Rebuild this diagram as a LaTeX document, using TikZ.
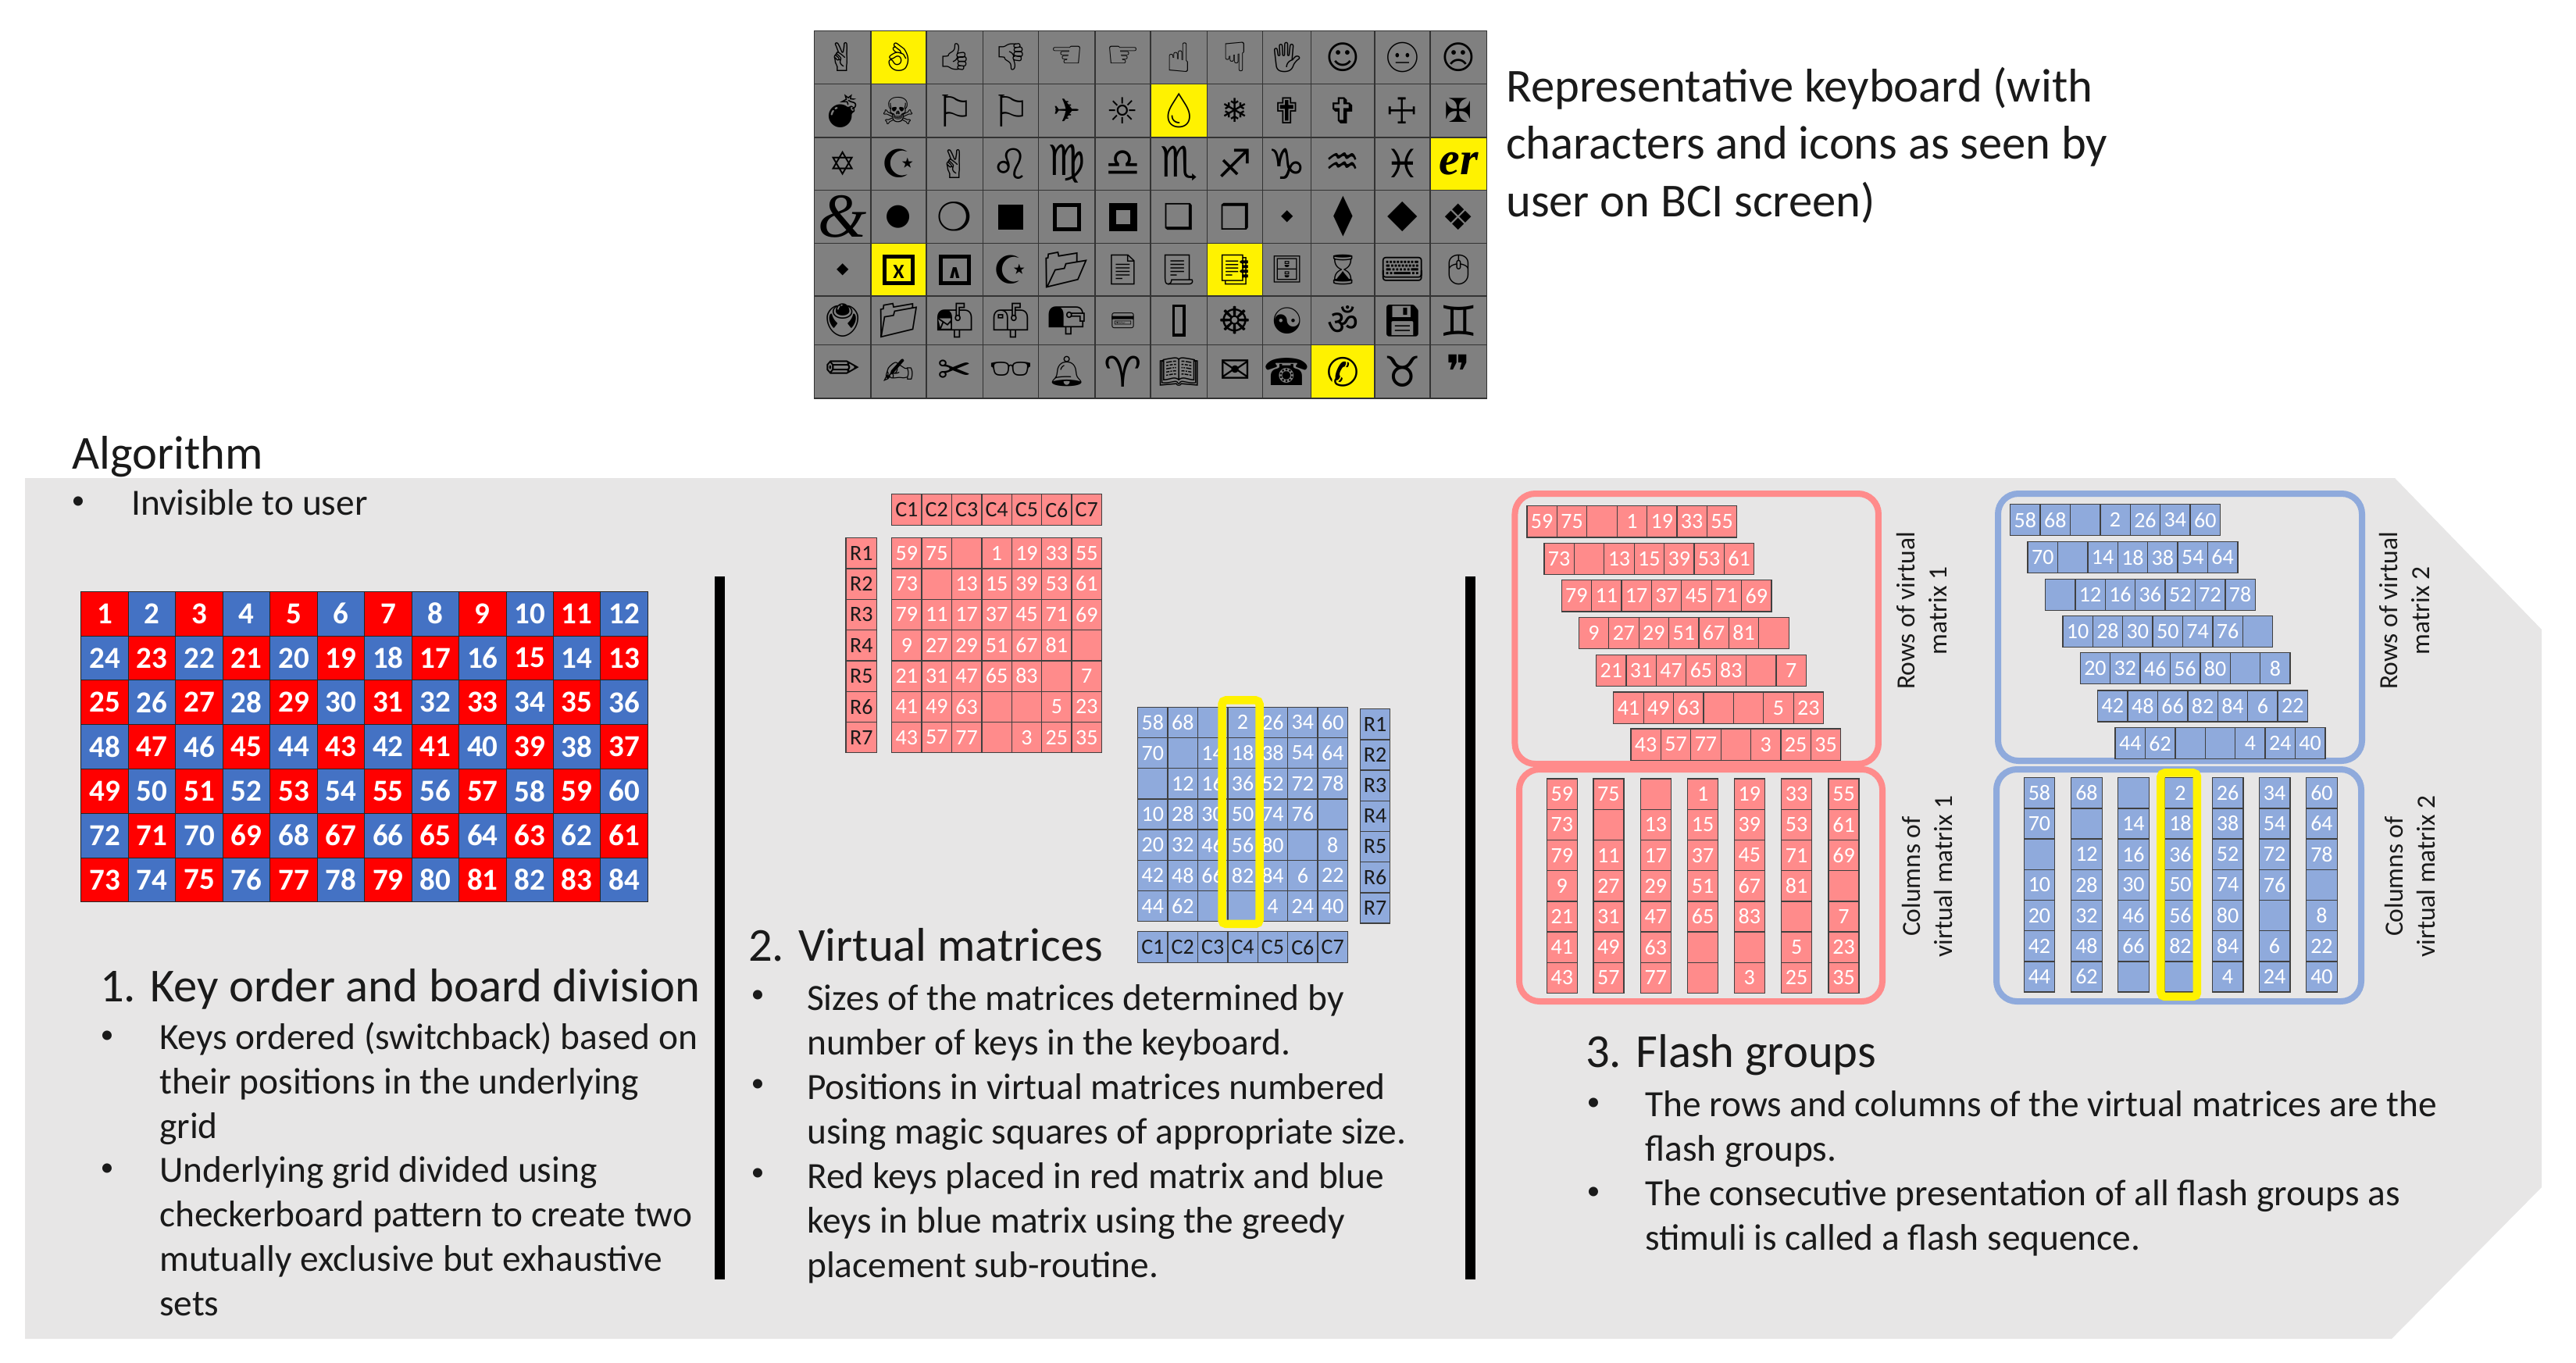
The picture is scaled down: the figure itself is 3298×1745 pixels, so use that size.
\documentclass[tikz,border=0pt]{standalone}
\usepackage{fontspec}
\setmainfont{Carlito}
\newfontfamily\djv{DejaVu Sans}
\newfontfamily\emof{Noto Emoji}
\newfontfamily\devf[Script=Devanagari]{Noto Sans}
\newfontfamily\lserif{Liberation Serif}
\definecolor{panel}{HTML}{E7E6E6}
\definecolor{kbgray}{HTML}{808080}
\definecolor{vred}{HTML}{FF8B8B}
\definecolor{vblue}{HTML}{8FAADC}
\definecolor{ckblue}{HTML}{4472C4}
\definecolor{txt}{HTML}{1A1A1A}
\newcommand\gD[2][50]{{\fontsize{#1}{#1}\selectfont\djv #2}}
\newcommand\gE[2][38]{{\fontsize{#1}{#1}\selectfont\emof #2}}
\newcommand\frbox[3]{{\fboxsep=0pt\fboxrule=#1pt\fbox{\rule{#2pt}{0pt}\rule{0pt}{#3pt}}}}
\newcommand\txbox[2]{{\fboxsep=2pt\fboxrule=5pt\fbox{\makebox[27pt]{\rule{0pt}{25pt}\raisebox{1pt}{\fontsize{#1}{#1}\selectfont\bfseries #2}}}}}
% keyboard
\def\kbx{{1042.6,1115,1186,1258.5,1329.7,1402,1473,1545.5,1616.7,1678.7,1760,1831,1903.7}}
\def\kby{{39.3,107.3,176,243.3,311.7,379,441.7,510}}
\expandafter\def\csname yk1-2\endcsname{}
\expandafter\def\csname yk2-7\endcsname{}
\expandafter\def\csname yk3-12\endcsname{}
\expandafter\def\csname yk5-2\endcsname{}
\expandafter\def\csname yk5-8\endcsname{}
\expandafter\def\csname yk7-10\endcsname{}
\def\KA{\gD{✌},\gE[36]{👌},\gE[34]{👍},\gE[34]{👎},\gD[48]{☜},\gD[48]{☞},\gD[52]{☝},\gD[52]{☟},\gE[38]{🖐},\gD[42]{☺},\gE[38]{😐},\gD[42]{☹}}
\def\KB{\gE[42]{💣},\gD[48]{☠},\gD[56]{⚐},\gD[56]{⚐},\gD[42]{✈},\gD[46]{☼},\gE[44]{💧},\gD[42]{❄},\gD[46]{✟},\gD[46]{✞},\gD[46]{☩},\gD[42]{✠}}
\def\KC{\gD[42]{✡},\gD[50]{☪},\gD{✌},\gD[54]{♌},\gD[54]{♍},\gD[50]{♎},\gD[54]{♏},\gD[50]{♐},\gD[54]{♑},\gD[50]{♒},\gD[50]{♓},{\fontsize{60}{60}\selectfont\lserif\itshape\bfseries er}}
\def\KD{{\fontsize{80}{80}\selectfont\lserif\itshape \&},\gD[38]{●},\gD[50]{❍},\rule{32pt}{32pt},\frbox{5}{26}{26},\frbox{9}{18}{18},\gD[44]{❑},\gD[44]{❒},\gD[20]{◆},\gD[50]{⧫},\gD[50]{◆},\gD[46]{❖}}
\def\KE{\gD[20]{◆},\txbox{26}{X},\txbox{24}{\djv ∧},\gD[50]{☪},\gE[46]{📂},\gE[38]{📄},\gE[38]{📃},\gE[38]{📑},\gE[34]{🗄},\gE[38]{⌛},\gE[46]{⌨},\gE[38]{🖱}}
\def\KF{\gE[42]{🖲},\gE[44]{📁},\gE[44]{📬},\gE[44]{📫},\gE[44]{📭},\gE[26]{💳},\frbox{3.5}{10}{34},\gD[48]{☸},\gD[46]{☯},{\fontsize{44}{44}\selectfont\devf ॐ},\gE[40]{💾},\gD[54]{♊}}
\def\KG{\gD[52]{✏},\gD[48]{✍},\gD[52]{✂},\gE[44]{👓},\gE[38]{🔔},\gD[54]{♈},\gE[42]{📖},\gD[48]{✉},\gD[48]{☎},\gD[50]{✆},\gD[54]{♉},\gD[58]{❞}}
\newcommand\kbrow[2]{\foreach \g [count=\ci] in #2 {
  \pgfmathsetmacro\xa{\kbx[\ci-1]}\pgfmathsetmacro\xb{\kbx[\ci]}
  \pgfmathsetmacro\ya{\kby[#1-1]}\pgfmathsetmacro\yb{\kby[#1]}
  \ifcsname yk#1-\ci\endcsname\def\cf{yellow}\else\def\cf{kbgray}\fi
  \node[kbcell,fill=\cf,minimum width={(\xb-\xa)*1pt},minimum height={(\yb-\ya)*1pt}] (kb-#1-\ci) at ({(\xa+\xb)/2},{(\ya+\yb)/2}) {\g};
}}
% virtual matrices data
\def\RA{59,75,{},1,19,33,55}
\def\RB{73,{},13,15,39,53,61}
\def\RC{79,11,17,37,45,71,69}
\def\RD{9,27,29,51,67,81,{}}
\def\RE{21,31,47,65,83,{},7}
\def\RF{41,49,63,{},{},5,23}
\def\RG{43,57,77,{},3,25,35}
\def\BA{58,68,{},2,26,34,60}
\def\BB{70,{},14,18,38,54,64}
\def\BC{{},12,16,36,52,72,78}
\def\BD{10,28,30,50,74,76,{}}
\def\BE{20,32,46,56,80,{},8}
\def\BF{42,48,66,82,84,6,22}
\def\BG{44,62,{},{},4,24,40}
\def\CR{C1,C2,C3,C4,C5,C6,C7}
\def\RR{R1,R2,R3,R4,R5,R6,R7}
\def\RcA{59,73,79,9,21,41,43}
\def\RcB{75,{},11,27,31,49,57}
\def\RcC{{},13,17,29,47,63,77}
\def\RcD{1,15,37,51,65,{},{}}
\def\RcE{19,39,45,67,83,{},3}
\def\RcF{33,53,71,81,{},5,25}
\def\RcG{55,61,69,{},7,23,35}
\def\BcA{58,70,{},10,20,42,44}
\def\BcB{68,{},12,28,32,48,62}
\def\BcC{{},14,16,30,46,66,{}}
\def\BcD{2,18,36,50,56,82,{}}
\def\BcE{26,38,52,74,80,84,4}
\def\BcF{34,54,72,76,{},6,24}
\def\BcG{60,64,78,{},8,22,40}
\newcommand\mrow[9]{\foreach \v [count=\ci from 0] in #9 {
  \node[#2,minimum width=#7pt,minimum height=#8pt,anchor=north west] (#1-\ci) at ({#3+\ci*#5},{#4+\ci*#6}) {\v};
}}
\tikzset{
  kbcell/.style={draw=black!80,line width=1.2pt,inner sep=0pt,text=black},
  ckcell/.style={draw=black!85,line width=1pt,inner sep=0pt,text=white,font=\fontsize{39}{39}\selectfont\bfseries,minimum width=60.5pt,minimum height=56.8pt},
  rcell/.style={fill=vred,draw=black!75,line width=1.3pt,inner sep=0pt,text=white,font=\fontsize{28}{28}\selectfont},
  bcell/.style={fill=vblue,draw=black!75,line width=1.3pt,inner sep=0pt,text=white,font=\fontsize{28}{28}\selectfont},
  rhead/.style={rcell,text=txt},
  bhead/.style={bcell,text=txt},
  flash/.style={rounded corners=26pt,line width=8pt,inner sep=0pt},
  hilite/.style={draw=yellow,rounded corners=5pt,line width=10.5pt,inner sep=0pt},
  sidelabel/.style={rotate=90,align=center,text=txt,font=\fontsize{33.5}{41}\selectfont},
  heading/.style={anchor=north west,inner sep=0pt,align=left,text=txt,font=\fontsize{60.6}{73.4}\selectfont},
  bodytext/.style={anchor=north west,inner sep=0pt,align=left,text=txt,font=\fontsize{47.4}{57}\selectfont},
  bulletmark/.style={anchor=center,inner sep=0pt,text=txt,font=\fontsize{34}{34}\selectfont},
  bar/.style={line width=13pt,black},
}
\begin{document}
\begin{tikzpicture}[x=1pt,y=-1pt]
\useasboundingbox (0,0) rectangle (3298,1745);
\fill[panel] (32,612) -- (3066,612) -- (3254,806) -- (3254,1520) -- (3062,1714) -- (32,1714) -- cycle;
% keyboard
\kbrow{1}{\KA}\kbrow{2}{\KB}\kbrow{3}{\KC}\kbrow{4}{\KD}\kbrow{5}{\KE}\kbrow{6}{\KF}\kbrow{7}{\KG}
\node[heading] (kbtitle) at (1928,86) {Representative keyboard (with\\characters and icons as seen by\\user on BCI screen)};
% algorithm
\node[heading] (algo) at (92,558) {Algorithm};
\node[bulletmark] (b0) at (100,644) {•};
\node[bodytext] (b0t) at (168,626) {Invisible to user};
% checkerboard
\foreach \r in {0,...,6}{\foreach \ci in {0,...,11}{
  \pgfmathtruncatemacro\val{isodd(\r)?12*\r+12-\ci:12*\r+\ci+1}
  \ifodd\val\def\cf{red}\else\def\cf{ckblue}\fi
  \node[ckcell,fill=\cf,anchor=north west] (ck-\val) at ({103.4+\ci*60.46},{756.7+\r*56.8}) {\val};
}}
% section 1
\node[heading] (h1) at (128,1240) {1. Key order and board division};
\node[bulletmark] (b1) at (137,1328) {•};
\node[bodytext] (t1) at (204,1309) {Keys ordered (switchback) based on\\their positions in the underlying\\grid};
\node[bulletmark] (b2) at (137,1498) {•};
\node[bodytext] (t2) at (204,1480) {Underlying grid divided using\\checkerboard pattern to create two\\mutually exclusive but exhaustive\\sets};
% bars
\coordinate (bar1a) at (921,738);\coordinate (bar1b) at (921,1638);
\coordinate (bar2a) at (1882,738);\coordinate (bar2b) at (1882,1638);
\draw[bar] (bar1a) -- (bar1b);
\draw[bar] (bar2a) -- (bar2b);
% red matrix
\mrow{rc}{rhead}{1141}{632}{38.4}{0}{38.4}{40}{\CR}
\mrow{rr}{rhead}{1082.3}{688}{0}{39.3}{39.7}{39.3}{\RR}
\mrow{ra}{rcell}{1141}{688}{38.4}{0}{38.4}{39.3}{\RA}
\mrow{rb}{rcell}{1141}{727.3}{38.4}{0}{38.4}{39.3}{\RB}
\mrow{rc2}{rcell}{1141}{766.6}{38.4}{0}{38.4}{39.3}{\RC}
\mrow{rd}{rcell}{1141}{805.9}{38.4}{0}{38.4}{39.3}{\RD}
\mrow{re}{rcell}{1141}{845.2}{38.4}{0}{38.4}{39.3}{\RE}
\mrow{rf}{rcell}{1141}{884.5}{38.4}{0}{38.4}{39.3}{\RF}
\mrow{rg}{rcell}{1141}{923.8}{38.4}{0}{38.4}{39.3}{\RG}
% blue matrix
\mrow{ba}{bcell}{1456}{904.6}{38.4}{0}{38.4}{39.2}{\BA}
\mrow{bb}{bcell}{1456}{943.8}{38.4}{0}{38.4}{39.2}{\BB}
\mrow{bc}{bcell}{1456}{983}{38.4}{0}{38.4}{39.2}{\BC}
\mrow{bd}{bcell}{1456}{1022.2}{38.4}{0}{38.4}{39.2}{\BD}
\mrow{be}{bcell}{1456}{1061.4}{38.4}{0}{38.4}{39.2}{\BE}
\mrow{bf}{bcell}{1456}{1100.6}{38.4}{0}{38.4}{39.2}{\BF}
\mrow{bg}{bcell}{1456}{1139.8}{38.4}{0}{38.4}{39.2}{\BG}
\mrow{bch}{bhead}{1456}{1192}{38.4}{0}{38.4}{40}{\CR}
\mrow{brh}{bhead}{1741}{907}{0}{39.2}{38}{39.2}{\RR}
\node[hilite,minimum width=48pt,minimum height=286.5pt] (hl1) at (1588.5,1039.7) {};
% flash groups red
\node[flash,draw=vred,minimum width=465.5pt,minimum height=346pt] (rrows) at (2172.2,805) {};
\node[flash,draw=vred,minimum width=465pt,minimum height=297pt] (rcols) at (2177.5,1133.5) {};
\mrow{fra}{rcell}{1954.3}{646.9}{38.4}{0}{38.4}{40.3}{\RA}
\mrow{frb}{rcell}{1976.3}{694.6}{38.4}{0}{38.4}{40.3}{\RB}
\mrow{frc}{rcell}{1998.5}{741.9}{38.4}{0}{38.4}{40.3}{\RC}
\mrow{frd}{rcell}{2020.7}{789.6}{38.4}{0}{38.4}{40.3}{\RD}
\mrow{fre}{rcell}{2042.9}{837.7}{38.4}{0}{38.4}{40.3}{\RE}
\mrow{frf}{rcell}{2065.1}{885.4}{38.4}{0}{38.4}{40.3}{\RF}
\mrow{frg}{rcell}{2087.3}{932.2}{38.4}{0}{38.4}{40.3}{\RG}
\mrow{fca}{rcell}{1979.6}{996.4}{0}{39.2}{39}{39.2}{\RcA}
\mrow{fcb}{rcell}{2039.2}{996.4}{0}{39.2}{39}{39.2}{\RcB}
\mrow{fcc}{rcell}{2099.6}{996.4}{0}{39.2}{39}{39.2}{\RcC}
\mrow{fcd}{rcell}{2160}{996.4}{0}{39.2}{39}{39.2}{\RcD}
\mrow{fce}{rcell}{2219.6}{996.4}{0}{39.2}{39}{39.2}{\RcE}
\mrow{fcf}{rcell}{2280}{996.4}{0}{39.2}{39}{39.2}{\RcF}
\mrow{fcg}{rcell}{2340.4}{996.4}{0}{39.2}{39}{39.2}{\RcG}
\node[sidelabel] (l1) at (2460,782) {Rows of virtual\\matrix 1};
\node[sidelabel] (l2) at (2467.5,1122) {Columns of\\virtual matrix 1};
% flash groups blue
\node[flash,draw=vblue,minimum width=466pt,minimum height=342pt] (brows) at (2791,803) {};
\node[flash,draw=vblue,minimum width=467pt,minimum height=297pt] (bcols) at (2789.5,1133.5) {};
\mrow{gba}{bcell}{2573}{645}{38.4}{0}{38.4}{40}{\BA}
\mrow{gbb}{bcell}{2595.4}{692.9}{38.4}{0}{38.4}{40}{\BB}
\mrow{gbc}{bcell}{2617.8}{740.6}{38.4}{0}{38.4}{40}{\BC}
\mrow{gbd}{bcell}{2640.2}{787.8}{38.4}{0}{38.4}{40}{\BD}
\mrow{gbe}{bcell}{2662.6}{835}{38.4}{0}{38.4}{40}{\BE}
\mrow{gbf}{bcell}{2685}{883.2}{38.4}{0}{38.4}{40}{\BF}
\mrow{gbg}{bcell}{2707.4}{931}{38.4}{0}{38.4}{40}{\BG}
\mrow{gca}{bcell}{2590.5}{995}{0}{39.2}{39.6}{39.2}{\BcA}
\mrow{gcb}{bcell}{2651}{995}{0}{39.2}{39.6}{39.2}{\BcB}
\mrow{gcc}{bcell}{2711}{995}{0}{39.2}{39.6}{39.2}{\BcC}
\mrow{gcd}{bcell}{2771}{995}{0}{39.2}{39.6}{39.2}{\BcD}
\mrow{gce}{bcell}{2831.6}{995}{0}{39.2}{39.6}{39.2}{\BcE}
\mrow{gcf}{bcell}{2891.6}{995}{0}{39.2}{39.6}{39.2}{\BcF}
\mrow{gcg}{bcell}{2952}{995}{0}{39.2}{39.6}{39.2}{\BcG}
\node[hilite,minimum width=46.5pt,minimum height=286.5pt] (hl2) at (2789.7,1132.7) {};
\node[sidelabel] (l3) at (3078,782) {Rows of virtual\\matrix 2};
\node[sidelabel] (l4) at (3085,1122) {Columns of\\virtual matrix 2};
% section 2
\node[heading] (h2) at (958,1188) {2. Virtual matrices};
\node[bulletmark] (b3) at (970,1276) {•};
\node[bodytext] (t3) at (1033,1260) {Sizes of the matrices determined by\\number of keys in the keyboard.};
\node[bulletmark] (b4) at (970,1390) {•};
\node[bodytext] (t4) at (1033,1374) {Positions in virtual matrices numbered\\using magic squares of appropriate size.};
\node[bulletmark] (b5) at (970,1504) {•};
\node[bodytext] (t5) at (1033,1488) {Red keys placed in red matrix and blue\\keys in blue matrix using the greedy\\placement sub-routine.};
% section 3
\node[heading] (h3) at (2030,1324) {3. Flash groups};
\node[bulletmark] (b6) at (2040,1414) {•};
\node[bodytext] (t6) at (2106,1396) {The rows and columns of the virtual matrices are the\\flash groups.};
\node[bulletmark] (b7) at (2040,1528) {•};
\node[bodytext] (t7) at (2106,1510) {The consecutive presentation of all flash groups as\\stimuli is called a flash sequence.};
\end{tikzpicture}
\end{document}
